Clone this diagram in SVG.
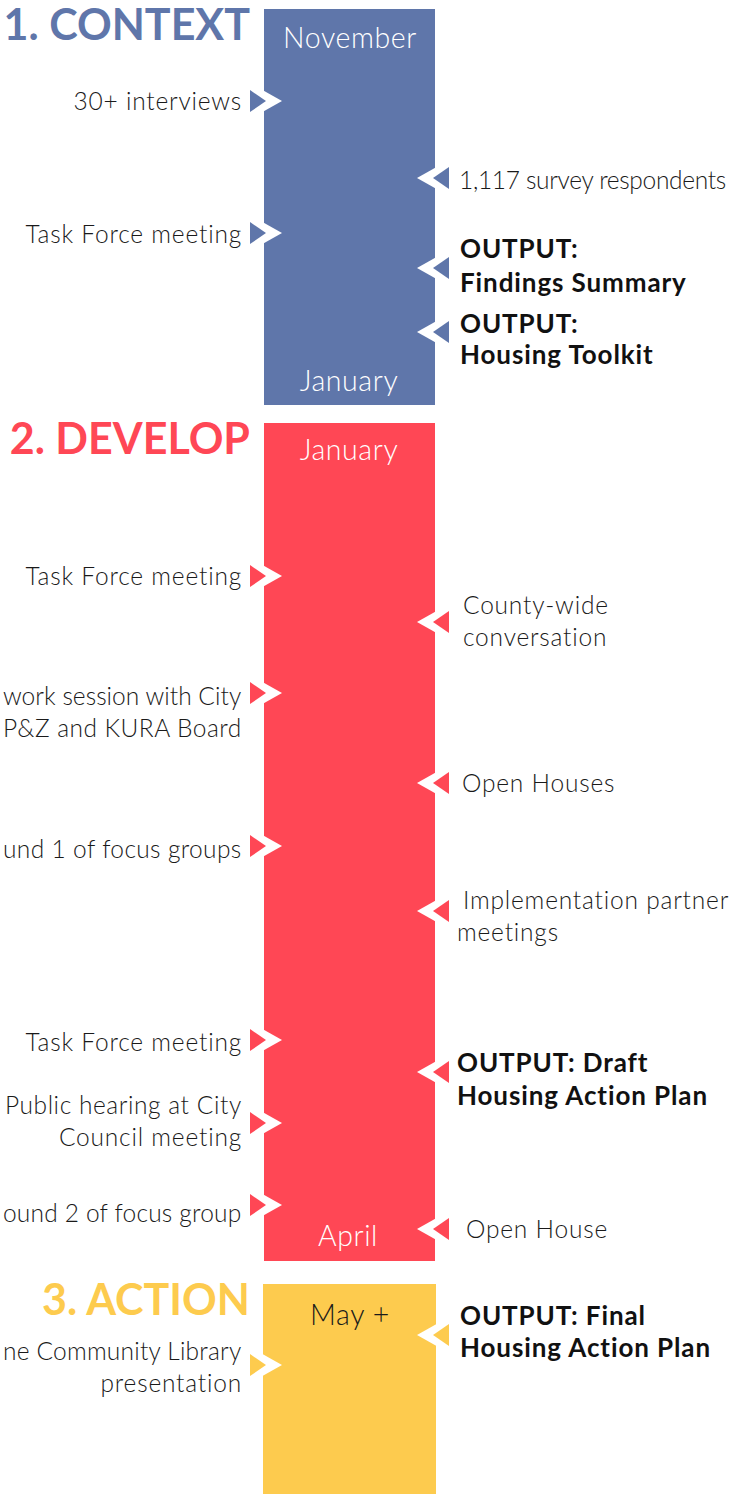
<svg xmlns="http://www.w3.org/2000/svg" xmlns:xlink="http://www.w3.org/1999/xlink" width="735" height="1497" viewBox="0 0 735 1497">
<style>
  .t { font-family: Lato, "Open Sans", "Liberation Sans", sans-serif; font-weight: 300; font-size: 24.5px; letter-spacing: 0.8px; fill: #1a1a1a; }
  .r { text-anchor: end; }
  .b { font-family: Lato, "Open Sans", "Liberation Sans", sans-serif; font-weight: 700; font-size: 26px; letter-spacing: 0.9px; fill: #111; }
  .h { font-family: Lato, "Open Sans", "Liberation Sans", sans-serif; font-weight: 700; font-size: 43px; text-anchor: end; }
  .m { font-family: Lato, "Open Sans", "Liberation Sans", sans-serif; font-weight: 300; font-size: 28.5px; letter-spacing: 0.6px; text-anchor: middle; fill: #ffffff; }
  .blue { color: #5f76aa; }
  .red { color: #ff4755; }
  .yel { color: #fdcb4e; }
</style>
<defs>
  <g id="arrR">
    <polygon points="250,-18 282,0 250,18" fill="#ffffff"/>
    <polygon points="250,-11 250,11 266,0" fill="currentColor"/>
  </g>
  <g id="arrL">
    <polygon points="449,-18 417,0 449,18" fill="#ffffff"/>
    <polygon points="449,-11 449,11 433,0" fill="currentColor"/>
  </g>
</defs>
<rect width="735" height="1497" fill="#ffffff"/>

<g id="phase-context">
  <rect x="264" y="9" width="171" height="396" fill="#5f76aa"/>
  <text class="h" x="250" y="40" fill="#5f76aa">1. CONTEXT</text>
  <text class="m" x="350" y="48">November</text>
  <text class="m" x="349" y="391">January</text>
</g>
<g id="phase-develop">
  <rect x="264" y="423" width="171" height="838" fill="#ff4755"/>
  <text class="h" x="250" y="454" fill="#ff4755">2. DEVELOP</text>
  <text class="m" x="349" y="460">January</text>
  <text class="m" x="348" y="1246">April</text>
</g>
<g id="phase-action">
  <rect x="263" y="1284" width="173" height="210" fill="#fdcb4e"/>
  <text class="h" x="250" y="1315" fill="#fdcb4e">3. ACTION</text>
  <text class="m" x="350" y="1325" style="fill:#1a1a1a">May +</text>
</g>

<g id="connectors">
  <use href="#arrR" y="101" class="blue"/>
  <use href="#arrR" y="233" class="blue"/>
  <use href="#arrL" y="178" class="blue"/>
  <use href="#arrL" y="268" class="blue"/>
  <use href="#arrL" y="332" class="blue"/>

  <use href="#arrR" y="576" class="red"/>
  <use href="#arrR" y="693" class="red"/>
  <use href="#arrR" y="846" class="red"/>
  <use href="#arrR" y="1040" class="red"/>
  <use href="#arrR" y="1123" class="red"/>
  <use href="#arrR" y="1205" class="red"/>
  <use href="#arrL" y="622" class="red"/>
  <use href="#arrL" y="783" class="red"/>
  <use href="#arrL" y="911" class="red"/>
  <use href="#arrL" y="1072" class="red"/>
  <use href="#arrL" y="1229" class="red"/>

  <use href="#arrR" y="1365" class="yel"/>
  <use href="#arrL" y="1335" class="yel"/>
</g>

<g id="n-interviews"><text class="t r" x="242" y="110">30+ interviews</text></g>
<g id="n-taskforce1"><text class="t r" x="242" y="243">Task Force meeting</text></g>
<g id="n-survey"><text class="t" x="459" y="189" textLength="268" lengthAdjust="spacing">1,117 survey respondents</text></g>
<g id="n-findings"><text class="b" x="460" y="258">OUTPUT:</text><text class="b" x="460" y="292">Findings Summary</text></g>
<g id="n-toolkit"><text class="b" x="460" y="333">OUTPUT:</text><text class="b" x="460" y="364">Housing Toolkit</text></g>

<g id="n-taskforce2"><text class="t r" x="242" y="585">Task Force meeting</text></g>
<g id="n-county"><text class="t" x="463" y="614">County-wide</text><text class="t" x="463" y="646">conversation</text></g>
<g id="n-worksession"><text class="t r" x="242" y="705" textLength="239" lengthAdjust="spacing">work session with City</text><text class="t r" x="242" y="737" textLength="239" lengthAdjust="spacing">P&amp;Z and KURA Board</text></g>
<g id="n-openhouses"><text class="t" x="462" y="792">Open Houses</text></g>
<g id="n-focus1"><text class="t r" x="242" y="858" textLength="239" lengthAdjust="spacing">und 1 of focus groups</text></g>
<g id="n-implementation"><text class="t" x="463" y="909">Implementation partner</text><text class="t" x="457" y="941">meetings</text></g>
<g id="n-taskforce3"><text class="t r" x="242" y="1051">Task Force meeting</text></g>
<g id="n-draft"><text class="b" x="457" y="1072">OUTPUT: Draft</text><text class="b" x="457" y="1105">Housing Action Plan</text></g>
<g id="n-hearing"><text class="t r" x="242" y="1114" textLength="237" lengthAdjust="spacing">Public hearing at City</text><text class="t r" x="242" y="1146">Council meeting</text></g>
<g id="n-focus2"><text class="t r" x="242" y="1222" textLength="239" lengthAdjust="spacing">ound 2 of focus group</text></g>
<g id="n-openhouse"><text class="t" x="466" y="1238">Open House</text></g>

<g id="n-final"><text class="b" x="460" y="1325">OUTPUT: Final</text><text class="b" x="460" y="1357">Housing Action Plan</text></g>
<g id="n-library"><text class="t r" x="242" y="1360" textLength="239" lengthAdjust="spacing">ne Community Library</text><text class="t r" x="242" y="1392">presentation</text></g>
</svg>
